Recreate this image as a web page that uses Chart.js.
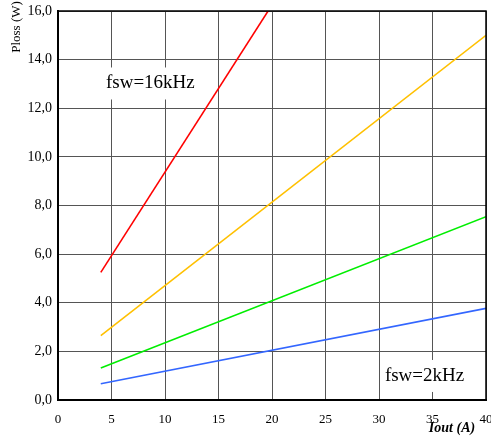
<!DOCTYPE html>
<html>
<head>
<meta charset="utf-8">
<script src="https://cdn.jsdelivr.net/npm/chart.js@4/dist/chart.umd.min.js"></script>
<style>
html,body{margin:0;padding:0;background:#fff;}
#wrap{width:491px;height:436px;}
</style>
</head>
<body>
<div id="wrap"><canvas id="c" width="491" height="436"></canvas></div>
<script>
// Data
const currents = [4, 40];                 // Iout (A)
const p16kHz = [5.25, 30.0];              // red (clipped at top)
const p8kHz  = [2.65, 15.0];              // yellow
const p4kHz  = [1.32, 7.54];              // green
const p2kHz  = [0.67, 3.77];              // blue
const xTicks = [0, 5, 10, 15, 20, 25, 30, 35, 40];
const yTicks = [0, 2, 4, 6, 8, 10, 12, 14, 16];
const labels16 = 'fsw=16kHz';
const labels2 = 'fsw=2kHz';
const xTitle = 'Iout (A)';
const yTitle = 'Ploss (W)';

const toPts = (ys) => currents.map((x, i) => ({x: x, y: ys[i]}));

const serif = '"Liberation Serif", "DejaVu Serif", serif';

const decor = {
  id: 'decor',
  beforeDatasetsDraw(chart) {
    const {ctx, scales: {x, y}} = chart;
    ctx.save();
    ctx.font = '19px ' + serif;
    ctx.textBaseline = 'middle';
    ctx.textAlign = 'left';
    // fsw=16kHz box
    let px = x.getPixelForValue(4.48), py = y.getPixelForValue(13.06);
    let w = ctx.measureText(labels16).width;
    ctx.fillStyle = '#fff';
    ctx.fillRect(px - 3, py - 15, w + 6, 32);
    ctx.fillStyle = '#000';
    ctx.fillText(labels16, px, py + 1);
    // fsw=2kHz box
    px = x.getPixelForValue(30.55); py = y.getPixelForValue(1.03);
    w = ctx.measureText(labels2).width;
    ctx.fillStyle = '#fff';
    ctx.fillRect(px - 3, py - 15, w + 6, 32);
    ctx.fillStyle = '#000';
    ctx.fillText(labels2, px, py + 1);
    ctx.restore();
  },
  afterDraw(chart) {
    const {ctx, chartArea: a} = chart;
    ctx.save();
    ctx.strokeStyle = '#000';
    ctx.lineWidth = 1.5;
    ctx.beginPath();
    ctx.moveTo(a.left, a.top); ctx.lineTo(a.right, a.top); ctx.lineTo(a.right, a.bottom);
    ctx.stroke();
    ctx.lineWidth = 2;
    ctx.beginPath();
    ctx.moveTo(a.left, a.top); ctx.lineTo(a.left, a.bottom); ctx.lineTo(a.right, a.bottom);
    ctx.stroke();
    // axis titles
    ctx.fillStyle = '#000';
    ctx.font = 'italic bold 14px ' + serif;
    ctx.textAlign = 'center';
    ctx.textBaseline = 'middle';
    ctx.fillText(xTitle, 452, 428);
    ctx.font = '13px ' + serif;
    ctx.translate(17, 27);
    ctx.rotate(-Math.PI / 2);
    ctx.fillText(yTitle, 0, 0);
    ctx.restore();
  }
};

new Chart(document.getElementById('c'), {
  type: 'line',
  data: {
    datasets: [
      {data: toPts(p16kHz), borderColor: '#ff0000'},
      {data: toPts(p8kHz), borderColor: '#ffc000'},
      {data: toPts(p4kHz), borderColor: '#00ee00'},
      {data: toPts(p2kHz), borderColor: '#3366ff'}
    ].map(d => Object.assign(d, {borderWidth: 1.6, pointRadius: 0, fill: false, tension: 0}))
  },
  options: {
    responsive: false,
    animation: false,
    events: [],
    layout: {padding: {left: 0, top: 11, right: 5, bottom: 0}},
    plugins: {legend: {display: false}, tooltip: {enabled: false}},
    scales: {
      x: {
        type: 'linear', min: 0, max: 40,
        afterBuildTicks: s => { s.ticks = xTicks.map(v => ({value: v})); },
        afterFit: s => { s.height = 36; s.paddingLeft = 0; s.paddingRight = 0; },
        grid: {color: '#555', lineWidth: 1, drawTicks: false},
        border: {color: '#000', width: 2},
        ticks: {color: '#000', padding: 12, font: {family: serif, size: 13}, maxRotation: 0, autoSkip: false,
                callback: v => String(v)}
      },
      y: {
        type: 'linear', min: 0, max: 16,
        afterBuildTicks: s => { s.ticks = yTicks.map(v => ({value: v})); },
        afterFit: s => { s.width = 58; s.paddingTop = 0; s.paddingBottom = 0; },
        grid: {color: '#555', lineWidth: 1, drawTicks: false},
        border: {color: '#000', width: 2},
        ticks: {color: '#000', padding: 6, font: {family: serif, size: 14}, autoSkip: false,
                callback: v => v.toFixed(1).replace('.', ',')}
      }
    }
  },
  plugins: [decor]
});
</script>
</body>
</html>
